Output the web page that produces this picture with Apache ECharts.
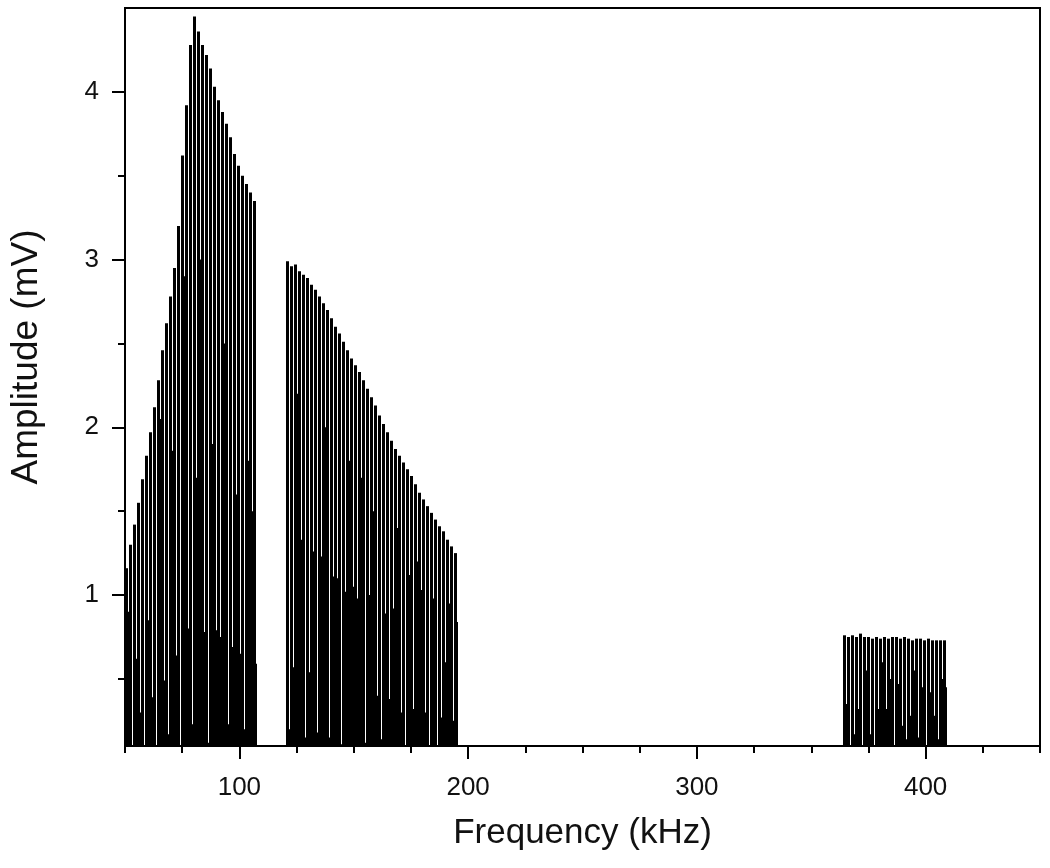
<!DOCTYPE html>
<html>
<head>
<meta charset="utf-8">
<script src="https://cdn.jsdelivr.net/npm/echarts@6/dist/echarts.min.js"></script>
<style>
html,body{margin:0;padding:0;background:#fff;}
#chart{width:1050px;height:868px;}
</style>
</head>
<body>
<div id="chart"></div>
<script>
// ---- data ----
const toothStep = 1.75; // kHz spacing of spectral lines
const bandStarts = [50, 120.25, 364];
const band1Tops = [1.16,1.30,1.42,1.55,1.69,1.83,1.97,2.12,2.28,2.46,2.62,2.78,2.95,3.20,3.62,3.92,4.28,4.45,4.36,4.28,4.22,4.14,4.03,3.95,3.88,3.81,3.73,3.63,3.56,3.50,3.45,3.40,3.35];
const band1Gaps = [0.9,0.1,0.62,0.30,0.1,0.85,0.39,0.1,2.05,0.49,0.17,1.86,0.64,0.1,2.9,0.80,0.23,1.7,3.0,0.78,0.12,1.9,0.79,0.75,2.5,0.23,0.69,1.6,0.65,0.2,1.8,1.5,0.59];
const band2Tops = [2.99,2.96,2.97,2.93,2.91,2.89,2.85,2.82,2.78,2.74,2.70,2.65,2.60,2.56,2.51,2.46,2.41,2.37,2.33,2.28,2.23,2.18,2.13,2.07,2.02,1.97,1.92,1.87,1.83,1.79,1.75,1.71,1.66,1.61,1.57,1.53,1.49,1.45,1.41,1.38,1.33,1.29,1.25];
const band2Gaps = [0.20,0.57,2.2,1.33,0.15,0.54,1.26,0.18,1.23,2.0,0.15,1.11,1.10,0.11,1.02,1.8,1.05,0.98,1.7,0.12,1.0,1.5,0.40,0.14,0.89,0.38,0.92,1.4,0.30,0.1,1.12,0.32,1.2,1.03,0.30,0.1,0.98,0.1,0.27,0.6,0.95,0.25,0.84];
const band3Tops = [0.76,0.75,0.76,0.75,0.77,0.75,0.75,0.74,0.75,0.74,0.75,0.74,0.75,0.75,0.74,0.75,0.74,0.73,0.74,0.74,0.73,0.74,0.73,0.73,0.73,0.73];
const band3Gaps = [0.35,0.1,0.17,0.32,0.1,0.55,0.17,0.1,0.32,0.6,0.32,0.5,0.1,0.47,0.22,0.14,0.28,0.55,0.15,0.45,0.1,0.42,0.28,0.14,0.50,0.45];
const xMajorTicks = [100, 200, 300, 400];
const yMajorTicks = [1, 2, 3, 4];
const yMinorTicks = [0.5, 1.5, 2.5, 3.5];
const Y_MIN = 0.1, Y_MAX = 4.5, X_MIN = 50, X_MAX = 450;

// ---- build columns [x0, x1, amplitude] ----
const GAP_FRAC = 0.75;
const bands = [[band1Tops, band1Gaps], [band2Tops, band2Gaps], [band3Tops, band3Gaps]];
const cols = [];
bands.forEach(function (b, k) {
  const start = bandStarts[k];
  const tops = b[0], gaps = b[1];
  for (let i = 0; i < tops.length; i++) {
    const f = start + i * toothStep;
    const g = f + GAP_FRAC * toothStep;
    cols.push([f, g, tops[i]]);
    cols.push([g, f + toothStep, gaps[i]]);
  }
});

const FONT = 'Liberation Sans, Arial, sans-serif';
const chart = echarts.init(document.getElementById('chart'), null, {renderer: 'canvas'});
chart.setOption({
  animation: false,
  backgroundColor: '#fff',
  grid: {left: 122, right: 10, top: 8, bottom: 122, show: true, borderColor: '#000', borderWidth: 2, backgroundColor: 'transparent'},
  xAxis: [{
    type: 'value', min: X_MIN, max: X_MAX, interval: 25,
    axisLine: {show: true, onZero: false, lineStyle: {color: '#000', width: 2}},
    axisTick: {show: true, length: 7, lineStyle: {color: '#000', width: 2}},
    axisLabel: {customValues: xMajorTicks, color: '#111', fontSize: 26, fontFamily: FONT, margin: 29},
    splitLine: {show: false},
    name: 'Frequency (kHz)', nameLocation: 'middle', nameGap: 70,
    nameTextStyle: {color: '#111', fontSize: 35, fontFamily: FONT}
  }, {
    type: 'value', min: X_MIN, max: X_MAX, position: 'bottom',
    axisLine: {show: false},
    axisTick: {show: true, customValues: xMajorTicks, length: 13, lineStyle: {color: '#000', width: 2}},
    axisLabel: {show: false},
    splitLine: {show: false}
  }],
  yAxis: [{
    type: 'value', min: Y_MIN, max: Y_MAX, position: 'left',
    axisLine: {show: true, onZero: false, lineStyle: {color: '#000', width: 2}},
    axisTick: {show: true, customValues: yMinorTicks, length: 7, lineStyle: {color: '#000', width: 2}},
    axisLabel: {show: false},
    splitLine: {show: false},
    name: 'Amplitude (mV)', nameLocation: 'middle', nameGap: 80,
    nameTextStyle: {color: '#111', fontSize: 37, fontFamily: FONT, padding: [0, 0, 0, 40]}
  }, {
    type: 'value', min: Y_MIN, max: Y_MAX, position: 'left', offset: 0,
    axisLine: {show: false},
    axisTick: {show: true, customValues: yMajorTicks, length: 13, lineStyle: {color: '#000', width: 2}},
    axisLabel: {customValues: yMajorTicks, color: '#111', fontSize: 26, fontFamily: FONT, margin: 26},
    splitLine: {show: false}
  }],
  series: [{
    type: 'custom', xAxisIndex: 0, yAxisIndex: 0, clip: true,
    encode: {x: [0, 1], y: 2},
    renderItem: function (params, api) {
      const p0 = api.coord([api.value(0), api.value(2)]);
      const p1 = api.coord([api.value(1), Y_MIN]);
      const x0 = Math.round(p0[0]), x1 = Math.round(p1[0]);
      return {
        type: 'rect',
        shape: {x: x0, y: p0[1], width: Math.max(x1 - x0, 0.6), height: p1[1] - p0[1]},
        style: {fill: '#000'}
      };
    },
    data: cols
  }]
});
</script>
</body>
</html>
